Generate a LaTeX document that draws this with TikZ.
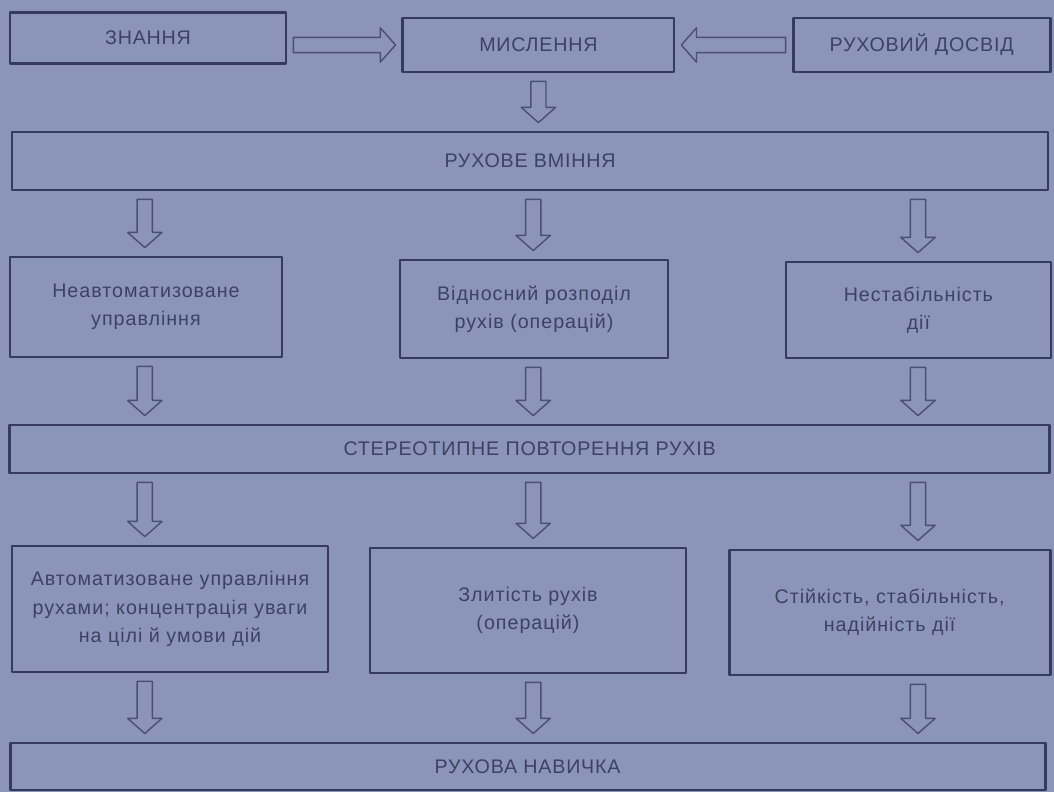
\documentclass[tikz,border=0pt]{standalone}
\usepackage{fontspec}
\setmainfont{Liberation Sans}
\newfontfamily\capsfont{Liberation Sans}[LetterSpace=4]
\newfontfamily\bodyfont{Liberation Sans}[LetterSpace=5]
\usetikzlibrary{calc}
\definecolor{paper}{HTML}{8A95B9}
\definecolor{boxline}{HTML}{363A60}
\definecolor{arrline}{HTML}{4A5074}
\definecolor{ink}{HTML}{3E4262}
\newcommand\arrshaft{0.19cm}
\newcommand\arrwing{0.43cm}
\newcommand\arrhead{0.38cm}
\newcommand\blockarrow[2]{%
  \path (#1) coordinate (ba-s) (#2) coordinate (ba-t);
  \coordinate (ba-h) at ($(ba-t)!\arrhead!(ba-s)$);
  \draw[hollow] ($(ba-s)!\arrshaft!90:(ba-t)$) -- ($(ba-h)!\arrshaft!-90:(ba-s)$)
    -- ($(ba-h)!\arrwing!-90:(ba-s)$) -- (ba-t) -- ($(ba-h)!\arrwing!90:(ba-s)$)
    -- ($(ba-h)!\arrshaft!90:(ba-s)$) -- ($(ba-s)!\arrshaft!-90:(ba-t)$) -- cycle;}
\newcommand\downarr[3]{\blockarrow{$(#1.south -| #3)+(0,-0.2)$}{$(#2.north -| #3)+(0,0.2)$}}
\tikzset{every path/.style={line join=round},
  box/.style={draw=boxline, line width=2pt, text=ink, align=center, inner sep=2pt},
  capbox/.style={box, font=\capsfont\fontsize{14}{17}\selectfont},
  textbox/.style={box, font=\bodyfont\fontsize{14}{20}\selectfont},
  hollow/.style={draw=arrline, line width=1pt}}

\begin{document}
\begin{tikzpicture}
   \fill[paper] (0,0) rectangle (26.35,-19.8);
   \useasboundingbox (0,0) rectangle (26.35,-19.8);
   \coordinate (c1) at ( 3.62,0);
   \coordinate (c2) at (13.33,0);
   \coordinate (c3) at (22.95,0);
   \node[capbox, minimum width=6.9cm,   minimum height=1.275cm] (zn)  at ( 3.70, -0.94)  {ЗНАННЯ};
   \node[capbox, minimum width=6.775cm, minimum height=1.35cm]  (mys) at (13.46, -1.125) {МИСЛЕННЯ};
   \node[capbox, minimum width=6.425cm, minimum height=1.35cm]  (dos) at (23.04, -1.125) {РУХОВИЙ ДОСВІД};
   \node[capbox, minimum width=25.9cm,  minimum height=1.45cm]  (vm)  at (13.25, -4.025) {РУХОВЕ ВМІННЯ};
   \node[textbox, minimum width=6.8cm,  minimum height=2.5cm]   (ne)  at ( 3.65, -7.675) {Неавтоматизоване\\управління};
   \node[textbox, minimum width=6.7cm,  minimum height=2.45cm]  (vid) at (13.35, -7.725) {Відносний розподіл\\рухів (операцій)};
   \node[textbox, minimum width=6.625cm,minimum height=2.4cm]   (nst) at (22.96, -7.75)  {Нестабільність\\дії};
   \node[capbox, minimum width=26.0cm,  minimum height=1.2cm]   (st)  at (13.24,-11.225) {СТЕРЕОТИПНЕ ПОВТОРЕННЯ РУХІВ};
   \node[textbox, minimum width=7.9cm,  minimum height=3.15cm]  (avt) at ( 4.25,-15.225) {Автоматизоване управління\\рухами; концентрація уваги\\на цілі й умови дій};
   \node[textbox, minimum width=7.9cm,  minimum height=3.125cm] (zl)  at (13.20,-15.26)  {Злитість рухів\\(операцій)};
   \node[textbox, minimum width=8.025cm,minimum height=3.125cm] (stk) at (22.24,-15.31)  {Стійкість, стабільність,\\надійність дії};
   \node[capbox, minimum width=25.875cm,minimum height=1.175cm] (nav) at (13.19,-19.16)  {РУХОВА НАВИЧКА};
   \blockarrow{$(zn.east |- mys)+(0.15,0)$}{$(mys.west)+(-0.15,0)$}
   \blockarrow{$(dos.west)+(-0.15,0)$}{$(mys.east)+(0.15,0)$}
   \downarr{mys}{vm}{mys}
   \downarr{vm}{ne}{c1}
   \downarr{vm}{vid}{c2}
   \downarr{vm}{nst}{c3}
   \downarr{ne}{st}{c1}
   \downarr{vid}{st}{c2}
   \downarr{nst}{st}{c3}
   \downarr{st}{avt}{c1}
   \downarr{st}{zl}{c2}
   \downarr{st}{stk}{c3}
   \downarr{avt}{nav}{c1}
   \downarr{zl}{nav}{c2}
   \downarr{stk}{nav}{c3}
\end{tikzpicture}
\end{document}
